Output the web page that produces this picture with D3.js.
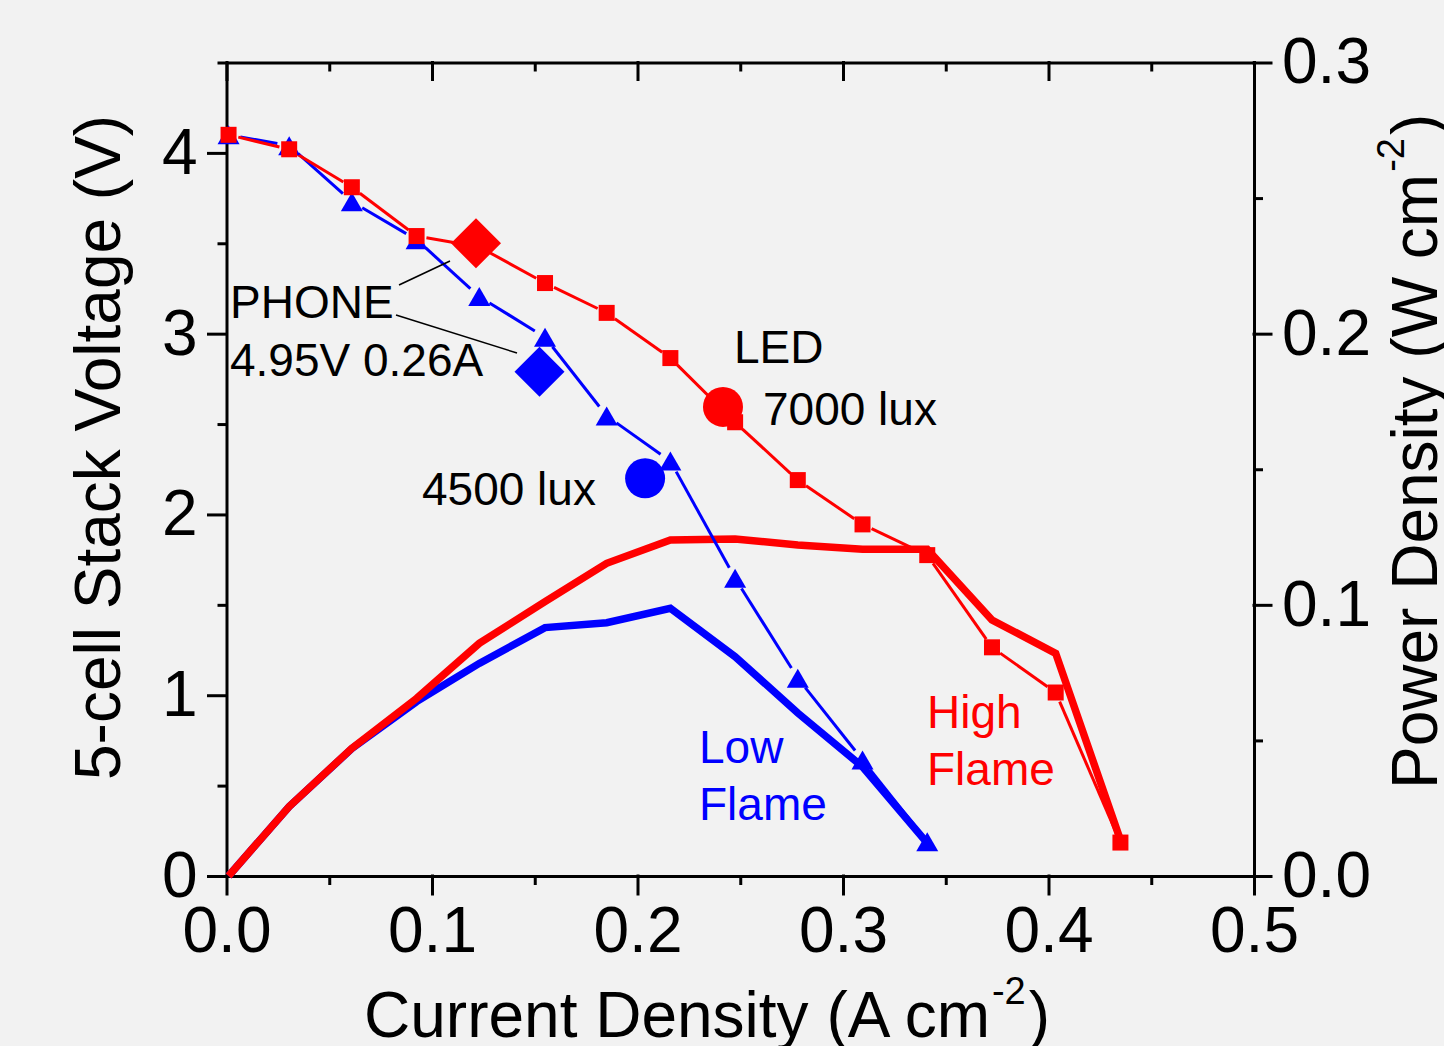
<!DOCTYPE html>
<html>
<head>
<meta charset="utf-8">
<script src="https://cdn.jsdelivr.net/npm/d3@7"></script>
<style>
  html, body { margin: 0; padding: 0; background: #f2f2f2; }
  svg { display: block; font-family: "Liberation Sans", Arial, sans-serif; }
  .axis path, .axis line { stroke: #000; stroke-width: 3px; }
  .axis text { fill: #000; font-size: 64px; font-family: "Liberation Sans", Arial, sans-serif; }
</style>
</head>
<body>
<div id="chart"></div>
<script>
// current density (A cm-2) where each point was measured
const currents = [0.001, 0.0305, 0.061, 0.0925, 0.123, 0.155, 0.185, 0.216, 0.2475, 0.278, 0.3095, 0.341, 0.3725, 0.4035, 0.435];

// stack voltage (V)
const highFlameVoltage = [4.10, 4.02, 3.81, 3.54, 3.48, 3.28, 3.115, 2.865, 2.51, 2.19, 1.945, 1.775, 1.265, 1.015, 0.185];
const lowFlameVoltage = [4.10, 4.04, 3.73, 3.52, 3.205, 2.98, 2.545, 2.295, 1.647, 1.094, 0.642, 0.19];

// power density (W cm-2)
const highFlamePower = [0, 0.0256, 0.0471, 0.0655, 0.0858, 0.1012, 0.1153, 0.1239, 0.1243, 0.1221, 0.1205, 0.1205, 0.0944, 0.0821, 0.0133];
const lowFlamePower = [0, 0.0256, 0.047, 0.0643, 0.0784, 0.0916, 0.0934, 0.0987, 0.0809, 0.0601, 0.0403, 0.0121];

// operating points: [high flame, low flame]
const phoneCurrent = [0.1214, 0.1523];
const phoneVoltage = [3.50, 2.79];
const ledCurrent = [0.2416, 0.2037];
const ledVoltage = [2.595, 2.20];

const xMajorTicks = [0, 0.1, 0.2, 0.3, 0.4, 0.5];
const xMinorTicks = [0.05, 0.15, 0.25, 0.35, 0.45];
const vMajorTicks = [0, 1, 2, 3, 4];
const vMinorTicks = [0.5, 1.5, 2.5, 3.5, 4.5];
const pMajorTicks = [0, 0.1, 0.2, 0.3];
const pMinorTicks = [0.05, 0.15, 0.25];

const RED = "#ff0000", BLUE = "#0000ff";
const width = 1444, height = 1046;

const svg = d3.select("#chart").append("svg")
    .attr("width", width)
    .attr("height", height);

svg.append("rect").attr("width", width).attr("height", height).attr("fill", "#f2f2f2");

const x = d3.scaleLinear().domain([0, 0.5]).range([226.5, 1254]);
const yV = d3.scaleLinear().domain([0, 4.5]).range([876, 62.5]);
const yP = d3.scaleLinear().domain([0, 0.3]).range([876, 62.5]);

// axes
function addAxis(axis, transform, minorValues, minorSize) {
  const g = svg.append("g").attr("class", "axis").attr("transform", transform);
  g.call(axis);
  g.selectAll(".tick line").attr("stroke-linecap", "square");
  if (minorValues) {
    const m = svg.append("g").attr("class", "axis").attr("transform", transform);
    m.call(minorSize(minorValues));
    m.select(".domain").remove();
  }
  return g;
}

addAxis(d3.axisBottom(x).tickValues(xMajorTicks).tickFormat(d3.format(".1f")).tickSizeInner(18).tickSizeOuter(0).tickPadding(13),
  "translate(0,876)", xMinorTicks,
  v => d3.axisBottom(x).tickValues(v).tickFormat("").tickSizeInner(9).tickSizeOuter(0));

addAxis(d3.axisTop(x).tickValues(xMajorTicks).tickFormat("").tickSizeInner(-17).tickSizeOuter(0),
  "translate(0,62.5)", xMinorTicks,
  v => d3.axisTop(x).tickValues(v).tickFormat("").tickSizeInner(-9).tickSizeOuter(0));

addAxis(d3.axisLeft(yV).tickValues(vMajorTicks).tickFormat(d3.format("d")).tickSizeInner(18).tickSizeOuter(0).tickPadding(11),
  "translate(226.5,0)", vMinorTicks,
  v => d3.axisLeft(yV).tickValues(v).tickFormat("").tickSizeInner(9).tickSizeOuter(0));

addAxis(d3.axisRight(yP).tickValues(pMajorTicks).tickFormat(d3.format(".1f")).tickSizeInner(17).tickSizeOuter(0).tickPadding(11),
  "translate(1254,0)", pMinorTicks,
  v => d3.axisRight(yP).tickValues(v).tickFormat("").tickSizeInner(9).tickSizeOuter(0));

// axis titles
const xTitle = svg.append("text")
    .attr("x", 364).attr("y", 1037)
    .attr("font-size", 64).attr("fill", "#000");
xTitle.append("tspan").text("Current Density (A cm");
xTitle.append("tspan").attr("font-size", 38).attr("dx", 2).attr("dy", -33).text("-2");
xTitle.append("tspan").attr("dx", 3).attr("dy", 33).text(")");

svg.append("text")
    .attr("transform", "translate(120,780) rotate(-90)")
    .attr("font-size", 64).attr("fill", "#000")
    .text("5-cell Stack Voltage (V)");

const pTitle = svg.append("text")
    .attr("transform", "translate(1437,789) rotate(-90)")
    .attr("font-size", 64).attr("fill", "#000");
pTitle.append("tspan").text("Power Density (W cm");
pTitle.append("tspan").attr("font-size", 38).attr("dx", 2).attr("dy", -33).text("-2");
pTitle.append("tspan").attr("dx", 3).attr("dy", 33).text(")");

// power curves (thick, right axis); high flame drawn over low flame
const powerLine = d3.line()
    .x((d, i) => x(currents[i]))
    .y(d => yP(d));

svg.append("path").datum(lowFlamePower)
    .attr("d", powerLine).attr("fill", "none")
    .attr("stroke", BLUE).attr("stroke-width", 7.5).attr("stroke-linejoin", "miter");
svg.append("path").datum(highFlamePower)
    .attr("d", powerLine).attr("fill", "none")
    .attr("stroke", RED).attr("stroke-width", 7.5).attr("stroke-linejoin", "miter");

// voltage curves: line segments stop short of each symbol
function gappedSegments(xs, ys, gap) {
  const pts = ys.map((v, i) => [x(xs[i]), yV(v)]);
  return d3.pairs(pts).map(([a, b]) => {
    const dx = b[0] - a[0], dy = b[1] - a[1], len = Math.hypot(dx, dy);
    const ux = dx / len, uy = dy / len;
    return [a[0] + ux * gap, a[1] + uy * gap, b[0] - ux * gap, b[1] - uy * gap];
  }).filter(s => (s[2] - s[0]) > 0);
}

function drawSegments(segs, color) {
  svg.append("g").selectAll("line").data(segs).join("line")
      .attr("x1", d => d[0]).attr("y1", d => d[1])
      .attr("x2", d => d[2]).attr("y2", d => d[3])
      .attr("stroke", color).attr("stroke-width", 3);
}

drawSegments(gappedSegments(currents, lowFlameVoltage, 12), BLUE);
drawSegments(gappedSegments(currents, highFlameVoltage, 10), RED);

svg.append("g").selectAll("path").data(lowFlameVoltage).join("path")
    .attr("transform", (d, i) => `translate(${x(currents[i])},${yV(d)})`)
    .attr("d", "M0,-9.5L11,9.5L-11,9.5Z")
    .attr("fill", BLUE);

svg.append("g").selectAll("rect").data(highFlameVoltage).join("rect")
    .attr("x", (d, i) => x(currents[i]) - 8)
    .attr("y", d => yV(d) - 8)
    .attr("width", 16).attr("height", 16)
    .attr("fill", RED);

// operating points
const pointColors = [RED, BLUE];
svg.append("g").selectAll("path").data(phoneVoltage).join("path")
    .attr("transform", (d, i) => `translate(${x(phoneCurrent[i])},${yV(d)})`)
    .attr("d", "M0,-25L25,0L0,25L-25,0Z")
    .attr("fill", (d, i) => pointColors[i]);

svg.append("g").selectAll("circle").data(ledVoltage).join("circle")
    .attr("cx", (d, i) => x(ledCurrent[i]))
    .attr("cy", d => yV(d))
    .attr("r", 20)
    .attr("fill", (d, i) => pointColors[i]);

// annotations
svg.append("line")
    .attr("x1", 399).attr("y1", 285).attr("x2", 450).attr("y2", 261)
    .attr("stroke", "#000").attr("stroke-width", 1.5);
svg.append("line")
    .attr("x1", 396).attr("y1", 315).attr("x2", 517).attr("y2", 353)
    .attr("stroke", "#000").attr("stroke-width", 1.5);

const labels = [
  { text: "PHONE", x: 230, y: 318, color: "#000" },
  { text: "4.95V 0.26A", x: 230, y: 376, color: "#000" },
  { text: "LED", x: 734, y: 363, color: "#000" },
  { text: "7000 lux", x: 763, y: 425, color: "#000" },
  { text: "4500 lux", x: 422, y: 505, color: "#000" },
  { text: "Low", x: 699, y: 763, color: BLUE },
  { text: "Flame", x: 699, y: 820, color: BLUE },
  { text: "High", x: 927, y: 728, color: RED },
  { text: "Flame", x: 927, y: 785, color: RED }
];

svg.append("g").selectAll("text").data(labels).join("text")
    .attr("x", d => d.x).attr("y", d => d.y)
    .attr("font-size", 46)
    .attr("fill", d => d.color)
    .text(d => d.text);
</script>
</body>
</html>
